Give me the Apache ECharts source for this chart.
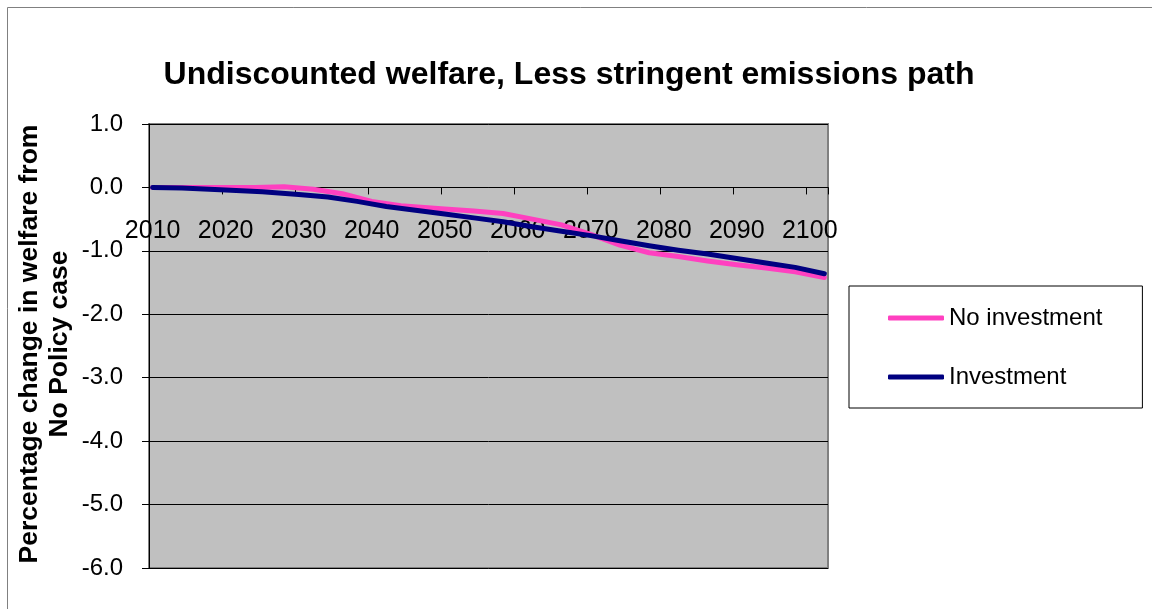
<!DOCTYPE html>
<html>
<head>
<meta charset="utf-8">
<script src="https://cdn.jsdelivr.net/npm/echarts@6/dist/echarts.min.js"></script>
<style>
  html, body { margin: 0; padding: 0; background: #fff; }
  #chart { width: 1152px; height: 609px; }
</style>
</head>
<body>
<div id="chart"></div>
<script>
// Yearly category axis, 2010 to 2102
const firstYear = 2010;
const lastYear = 2102;
const years = [];
for (let y = firstYear; y <= lastYear; y++) years.push(String(y));

// Percentage change in welfare from the No Policy case
const noInvestmentYears = [2010, 2015, 2020, 2024, 2028, 2032, 2036, 2040, 2044, 2050, 2054, 2058, 2062, 2066, 2070, 2074, 2078, 2082, 2086, 2090, 2094, 2098, 2102];
const noInvestmentValues = [0.00, 0.00, 0.00, 0.00, 0.01, -0.03, -0.10, -0.22, -0.29, -0.34, -0.37, -0.41, -0.50, -0.59, -0.74, -0.91, -1.03, -1.09, -1.16, -1.22, -1.27, -1.33, -1.42];

const investmentYears = [2010, 2014, 2020, 2025, 2030, 2034, 2038, 2042, 2046, 2050, 2054, 2058, 2062, 2066, 2070, 2074, 2078, 2082, 2086, 2090, 2094, 2098, 2102];
const investmentValues = [0.00, -0.01, -0.04, -0.07, -0.11, -0.15, -0.22, -0.30, -0.36, -0.42, -0.48, -0.54, -0.62, -0.69, -0.76, -0.84, -0.92, -0.99, -1.05, -1.12, -1.19, -1.26, -1.36];

const yTicks = { min: -6, max: 1, interval: 1 };

const pair = (ys, vs) => ys.map((y, i) => [String(y), vs[i]]);

// Plot box in pixels; the category axis is drawn across the 0.0 line
const gridTop = 124, gridBottom = 41, chartHeight = 609;
const plotHeight = chartHeight - gridTop - gridBottom;
const zeroOffset = -plotHeight * (0 - yTicks.min) / (yTicks.max - yTicks.min);

const chart = echarts.init(document.getElementById('chart'), null, { renderer: 'canvas' });
const font = 'Liberation Sans, Arial, sans-serif';

chart.setOption({
  animation: false,
  backgroundColor: '#ffffff',
  textStyle: { fontFamily: font },
  title: {
    text: 'Undiscounted welfare, Less stringent emissions path',
    left: 564,
    textAlign: 'center',
    top: 54,
    textStyle: { fontFamily: font, fontWeight: 'bold', fontSize: 32, color: '#000' }
  },
  graphic: [
    {
      type: 'rect',
      shape: { x: 7.5, y: 7.5, width: 1300, height: 800 },
      style: { fill: 'none', stroke: '#808080', lineWidth: 1 },
      silent: true, z: -1
    },
    {
      type: 'text',
      x: 45, y: 344,
      rotation: Math.PI / 2,
      style: {
        text: 'Percentage change in welfare from\nNo Policy case',
        fontFamily: font, fontWeight: 'bold', fontSize: 26.5,
        lineHeight: 30,
        align: 'center', verticalAlign: 'middle',
        fill: '#000'
      }
    }
  ],
  legend: {
    orient: 'vertical',
    left: 849,
    top: 286,
    padding: [20, 40, 19, 39],
    itemGap: 35,
    itemWidth: 56,
    itemHeight: 5,
    icon: 'roundRect',
    backgroundColor: '#fff',
    borderColor: '#000',
    borderWidth: 1,
    textStyle: { fontFamily: font, fontSize: 24, color: '#000' },
    data: ['No investment', 'Investment']
  },
  grid: {
    left: 149, right: 324, top: gridTop, bottom: gridBottom,
    show: true,
    backgroundColor: '#C0C0C0',
    borderColor: '#808080',
    borderWidth: 2,
    containLabel: false
  },
  xAxis: {
    type: 'category',
    data: years,
    boundaryGap: true,
    offset: zeroOffset,
    axisLine: { onZero: false, lineStyle: { color: '#000', width: 1 } },
    axisTick: { show: true, interval: 9, length: 7, lineStyle: { color: '#000' } },
    axisLabel: { interval: 9, margin: 31, fontFamily: font, fontSize: 25, color: '#000' },
    splitLine: { show: false }
  },
  yAxis: {
    type: 'value',
    min: yTicks.min, max: yTicks.max, interval: yTicks.interval,
    axisLine: { show: true, lineStyle: { color: '#000', width: 1 } },
    axisTick: { show: true, inside: false, length: 7, lineStyle: { color: '#000' } },
    axisLabel: { margin: 26, fontFamily: font, fontSize: 24, color: '#000',
      formatter: v => v.toFixed(1) },
    splitLine: { show: true, lineStyle: { color: '#000', width: 1 } }
  },
  series: [
    {
      name: 'No investment',
      type: 'line',
      data: pair(noInvestmentYears, noInvestmentValues),
      symbol: 'none',
      color: '#FF40C0',
      lineStyle: { color: '#FF40C0', width: 5, cap: 'round', join: 'round' },
      z: 2
    },
    {
      name: 'Investment',
      type: 'line',
      data: pair(investmentYears, investmentValues),
      symbol: 'none',
      color: '#000080',
      lineStyle: { color: '#000080', width: 5, cap: 'round', join: 'round' },
      z: 3
    }
  ]
});
</script>
</body>
</html>
